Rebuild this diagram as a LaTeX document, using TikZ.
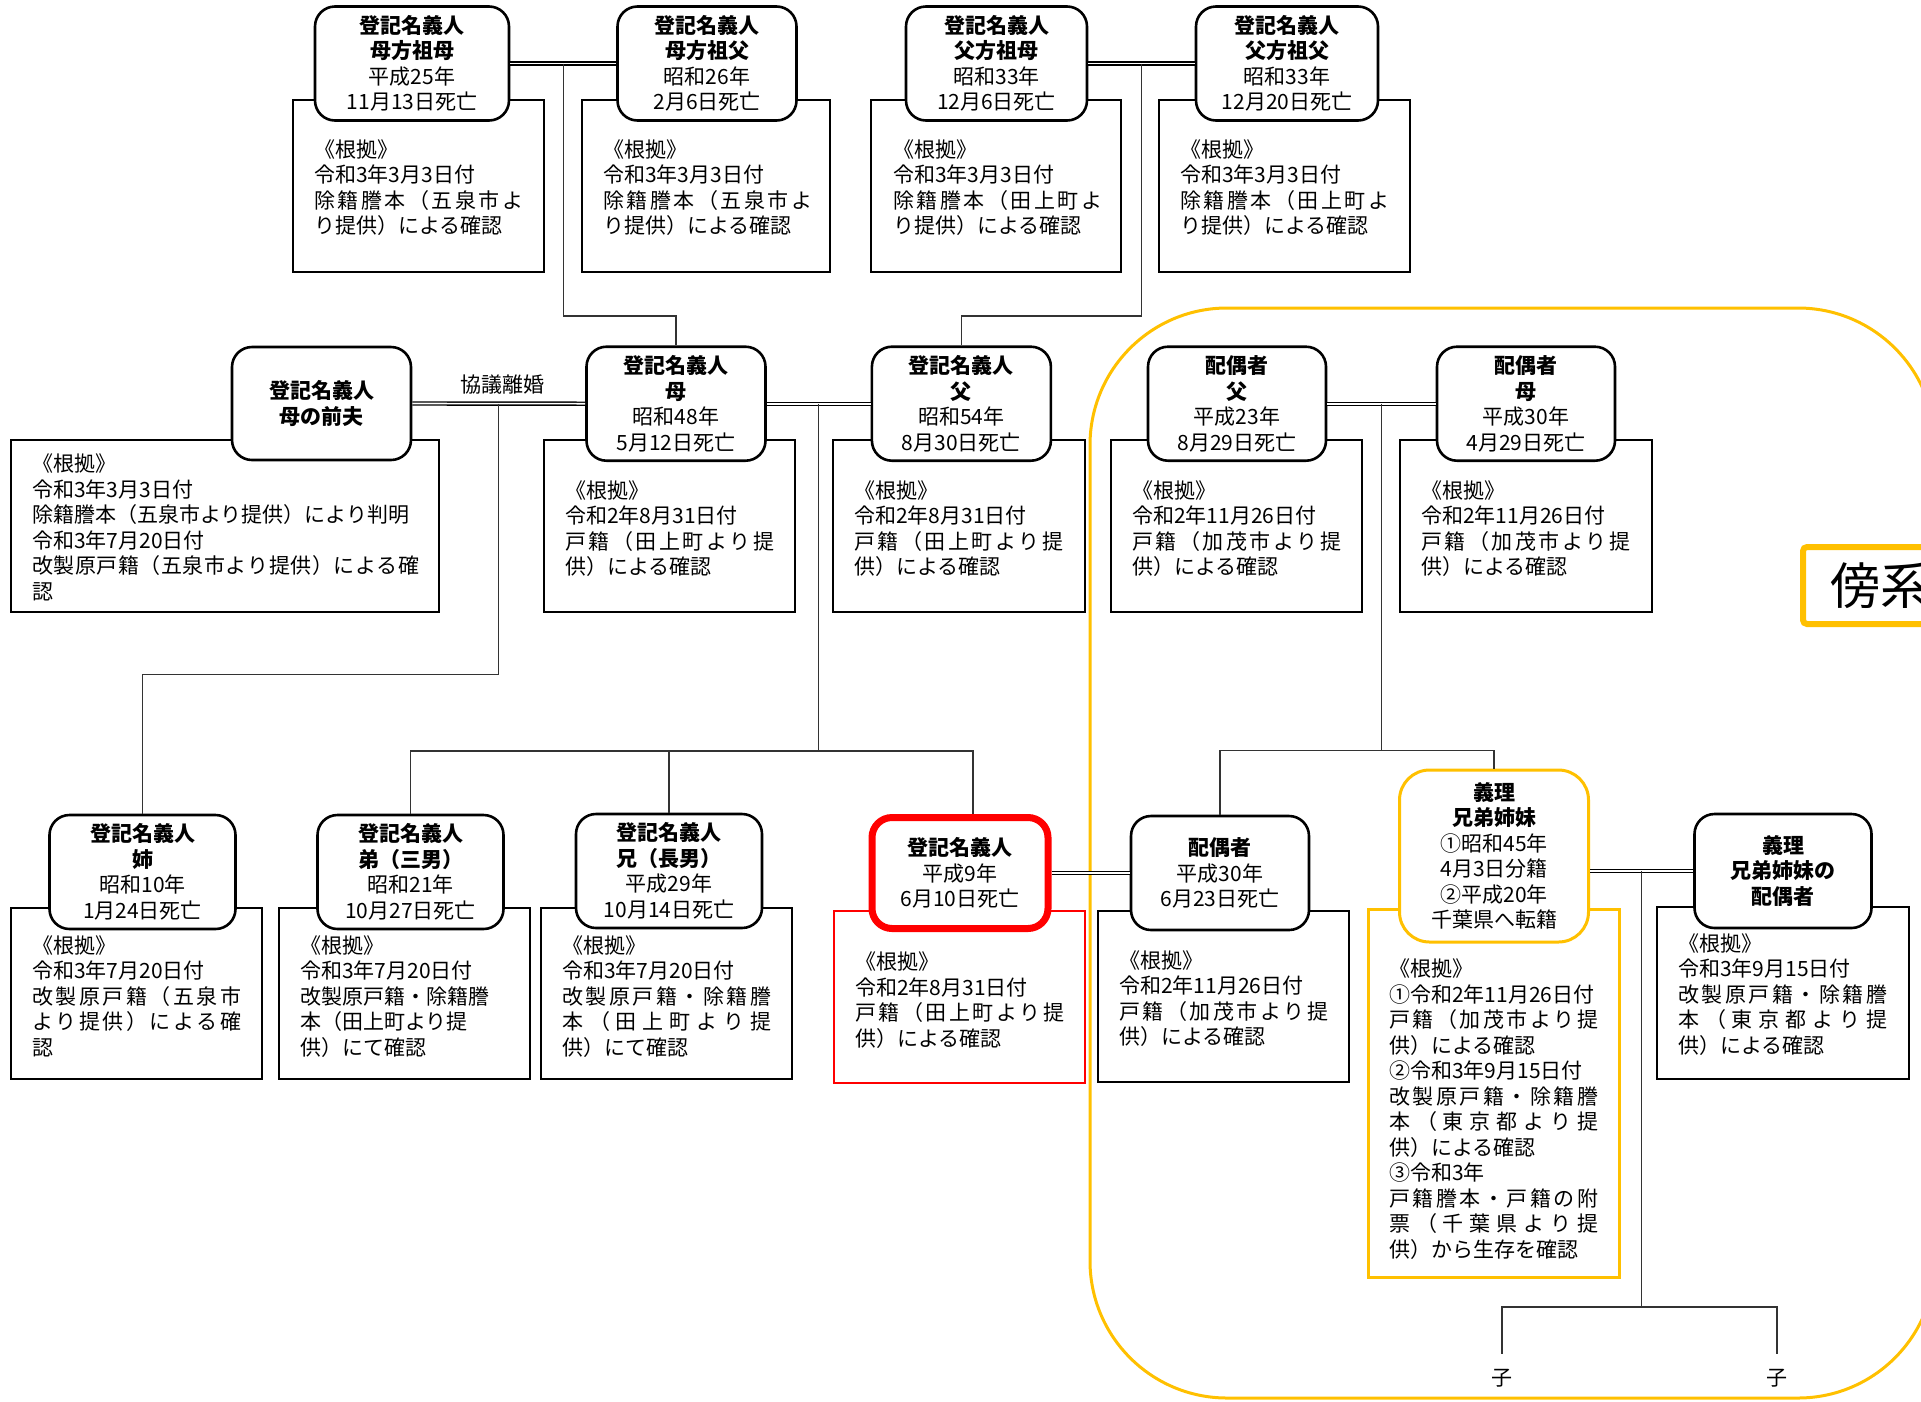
\documentclass[tikz,border=0pt]{standalone}
\usepackage{fontspec}
\setmainfont{Noto Sans CJK JP}
\usetikzlibrary{calc}
\definecolor{gold}{HTML}{FFC000}
\newcommand\jpf{\fontsize{21pt}{25.5pt}\selectfont}
\newlength\evw \setlength\evw{209pt}
\makeatletter
\newcommand\evline[2][\evw]{\hbox to #1{\@tfor\ev@c:=#2\do{\ev@c\hfil}\unskip}}
\makeatother
\tikzset{
  person/.style={draw,line width=2.6pt,rounded corners=20pt,fill=white,align=center,inner sep=0pt,font=\jpf,minimum width=#1,minimum height=114pt,execute at begin node={\rule{0pt}{27pt}}},
  person/.default=180pt,
  evbox/.style={draw,line width=2.6pt},
  evtext/.style={anchor=north west,align=left,inner sep=0pt,font=\jpf},
  link/.style={draw=black!80,line width=1.1pt},
  wed/.style={double,double distance=1.6pt,line width=1.4pt}
}

\begin{document}
\begin{tikzpicture}[x=1pt,y=-1pt]
\useasboundingbox (0,0) rectangle (1921,1401);
% collateral area
\draw[gold,line width=3pt,rounded corners=137pt] (1090,308) rectangle (1935,1398);
\node[draw=gold,line width=6pt,rounded corners=4pt,anchor=west,minimum height=77pt,text width=150pt,align=left,inner xsep=27pt,inner ysep=0pt,font=\fontsize{50pt}{60pt}\selectfont] (bokei) at (1800,585.5) {傍系};

% evidence boxes
\foreach \a/\b/\c/\d in {293/100/544/272,582/100/830/272,871/100/1121/272,1159/100/1410/272,11/440/439/612,544/440/795/612,833/440/1085/612,1111/440/1362/612,1400/440/1652/612,11/908/262/1079,279/908/530/1079,541/908/792/1079,1098/911/1349/1082,1657/907/1909/1079}{\draw[evbox] (\a,\b) rectangle (\c,\d);}
\draw[red,line width=2pt] (834,911) rectangle (1085,1083);
\draw[gold,line width=3pt] (1368,909) rectangle (1619,1277);

% grandparents
\node[person=194pt] (gmM) at (412,63.5) {\textbf{登記名義人}\\\textbf{母方祖母}\\平成25年\\11月13日死亡};
\node[person=179pt] (gfM) at (707,63.5) {\textbf{登記名義人}\\\textbf{母方祖父}\\昭和26年\\2月6日死亡};
\node[person=181pt] (gmF) at (996.5,63.5) {\textbf{登記名義人}\\\textbf{父方祖母}\\昭和33年\\12月6日死亡};
\node[person=182pt] (gfF) at (1287,63.5) {\textbf{登記名義人}\\\textbf{父方祖父}\\昭和33年\\12月20日死亡};

% parents
\node[person=179pt,minimum height=113pt] (exH) at (321.5,403.5) {\textbf{登記名義人}\\\textbf{母の前夫}};
\node[person=179pt] (mo) at (676,403.7) {\textbf{登記名義人}\\\textbf{母}\\昭和48年\\5月12日死亡};
\node[person=179pt] (fa) at (961.4,403.7) {\textbf{登記名義人}\\\textbf{父}\\昭和54年\\8月30日死亡};
\node[person=178pt] (sF) at (1237,403.7) {\textbf{配偶者}\\\textbf{父}\\平成23年\\8月29日死亡};
\node[person=178pt] (sM) at (1526,403.7) {\textbf{配偶者}\\\textbf{母}\\平成30年\\4月29日死亡};

% siblings
\node[person=186pt] (sis) at (142.5,872) {\textbf{登記名義人}\\\textbf{姉}\\昭和10年\\1月24日死亡};
\node[person=186pt] (yb) at (410.5,872) {\textbf{登記名義人}\\\textbf{弟（三男）}\\昭和21年\\10月27日死亡};
\node[person=186pt] (eb) at (669,871) {\textbf{登記名義人}\\\textbf{兄（長男）}\\平成29年\\10月14日死亡};
\node[person=176pt,draw=red,line width=7pt,minimum height=111pt] (self) at (960,873) {\textbf{登記名義人}\\平成9年\\6月10日死亡};
\node[person=178pt] (sp) at (1220,873) {\textbf{配偶者}\\平成30年\\6月23日死亡};
\node[person=189pt,draw=gold,line width=3pt,rounded corners=30pt,minimum height=172pt] (il) at (1494,856) {\textbf{義理}\\\textbf{兄弟姉妹}\\①昭和45年\\4月3日分籍\\②平成20年\\千葉県へ転籍};
\node[person=177pt] (ilsp) at (1783,871) {\textbf{義理}\\\textbf{兄弟姉妹の}\\\textbf{配偶者}};

% evidence texts
\node[evtext] (tgmM) at (314,139.5) {《根拠》\\令和3年3月3日付\\\evline{除籍謄本（五泉市よ}\\り提供）による確認};
\node[evtext] (tgfM) at (603,139.5) {《根拠》\\令和3年3月3日付\\\evline{除籍謄本（五泉市よ}\\り提供）による確認};
\node[evtext] (tgmF) at (893,139.5) {《根拠》\\令和3年3月3日付\\\evline{除籍謄本（田上町よ}\\り提供）による確認};
\node[evtext] (tgfF) at (1180,139.5) {《根拠》\\令和3年3月3日付\\\evline{除籍謄本（田上町よ}\\り提供）による確認};
\node[evtext] (texH) at (32,453.8) {《根拠》\\令和3年3月3日付\\除籍謄本（五泉市より提供）により判明\\令和3年7月20日付\\\evline[387pt]{改製原戸籍（五泉市より提供）による確}\\認};
\node[evtext] (tmo) at (565,480.5) {《根拠》\\令和2年8月31日付\\\evline{戸籍（田上町より提}\\供）による確認};
\node[evtext] (tfa) at (854,480.5) {《根拠》\\令和2年8月31日付\\\evline{戸籍（田上町より提}\\供）による確認};
\node[evtext] (tsF) at (1132,480.5) {《根拠》\\令和2年11月26日付\\\evline{戸籍（加茂市より提}\\供）による確認};
\node[evtext] (tsM) at (1421,480.5) {《根拠》\\令和2年11月26日付\\\evline{戸籍（加茂市より提}\\供）による確認};
\node[evtext] (tsis) at (32,935.5) {《根拠》\\令和3年7月20日付\\\evline{改製原戸籍（五泉市}\\\evline{より提供）による確}\\認};
\node[evtext] (tyb) at (300,935.5) {《根拠》\\令和3年7月20日付\\改製原戸籍・除籍謄\\本（田上町より提\\供）にて確認};
\node[evtext] (teb) at (562,935.5) {《根拠》\\令和3年7月20日付\\\evline{改製原戸籍・除籍謄}\\\evline{本（田上町より提}\\供）にて確認};
\node[evtext] (tself) at (855,952) {《根拠》\\令和2年8月31日付\\\evline{戸籍（田上町より提}\\供）による確認};
\node[evtext] (tsp) at (1119,950.5) {《根拠》\\令和2年11月26日付\\\evline{戸籍（加茂市より提}\\供）による確認};
\node[evtext] (til) at (1389,958.8) {《根拠》\\①令和2年11月26日付\\\evline{戸籍（加茂市より提}\\供）による確認\\②令和3年9月15日付\\\evline{改製原戸籍・除籍謄}\\\evline{本（東京都より提}\\供）による確認\\③令和3年\\\evline{戸籍謄本・戸籍の附}\\\evline{票（千葉県より提}\\供）から生存を確認};
\node[evtext] (tilsp) at (1678,933.5) {《根拠》\\令和3年9月15日付\\\evline{改製原戸籍・除籍謄}\\\evline{本（東京都より提}\\供）による確認};

% children of the in-law sibling
\node[font=\jpf,inner xsep=2pt,inner ysep=15pt] (c1) at (1502,1378) {子};
\node[font=\jpf,inner xsep=2pt,inner ysep=15pt] (c2) at (1777,1378) {子};
\node[font=\jpf] (kyo) at (502.7,385) {協議離婚};

% marriages
\draw[wed] (gmM.east) -- (gfM.west);
\draw[wed] (gmF.east) -- (gfF.west);
\draw[wed] (exH.east) -- (mo.west);
\draw[wed] (mo.east) -- (fa.west);
\draw[wed] (sF.east) -- (sM.west);
\draw[wed] (self.east) -- (sp.west);
\draw[wed] (ilsp.west -| il.east) -- (ilsp.west);

% descent lines
\coordinate (cM) at ($(gmM.east)!.5!(gfM.west)$); \coordinate (jM) at ($(cM)+(0,252.5)$);
\coordinate (cF) at ($(gmF.east)!.5!(gfF.west)$); \coordinate (jF) at ($(cF)+(0,252.5)$);
\draw[link] (cM) -- (jM) -| (mo.north);
\draw[link] (cF) -- (jF) -| (fa.north);
\coordinate (cX) at ($(exH.east)!.5!(mo.west)$); \coordinate (kX) at ($(cX)+(0,270.5)$);
\draw[link] (cX) -- (kX) -| (sis.north);
\coordinate (cMF) at ($(mo.east)!.5!(fa.west)$); \coordinate (kR) at (973,751);
\draw[link] (cMF) -- (cMF |- kR);
\draw[link] (yb.north) |- (kR) -- (kR |- self.north);
\draw[link] (eb.north) -- (eb.north |- kR);
\coordinate (cS) at ($(sF.east)!.5!(sM.west)$); \coordinate (kS) at ($(cS)+(0,346.5)$);
\draw[link] (cS) -- (kS);
\draw[link] (sp.north) |- (kS) -| (il.north);
\coordinate (cI) at ($(ilsp.west -| il.east)!.5!(ilsp.west)$); \coordinate (kb) at ($(cI)+(0,436)$);
\draw[link] (cI) -- (kb);
\draw[link] (c1.north) |- (kb) -| (c2.north);
\end{tikzpicture}
\end{document}
